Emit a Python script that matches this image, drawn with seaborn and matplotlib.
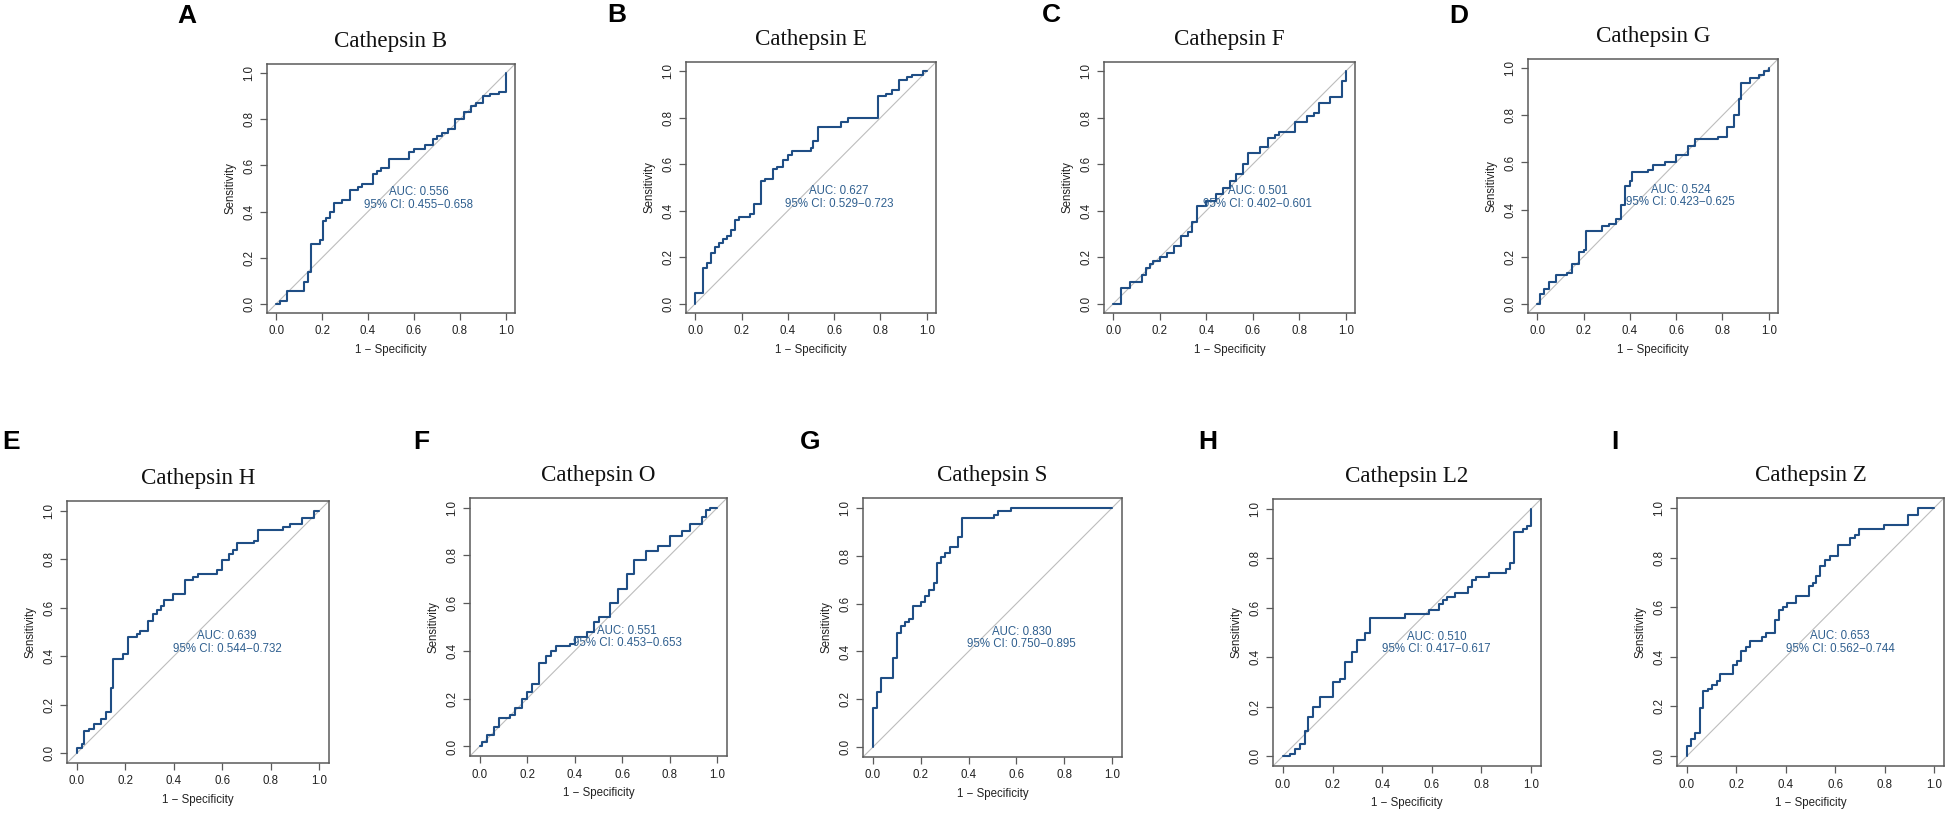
import matplotlib
matplotlib.use("Agg")
import matplotlib.pyplot as plt
import pandas as pd
import seaborn as sns

# --- ROC step points (1 - specificity, sensitivity) ---
CTSB = [(0, 0), (0.015, 0.014), (0.048, 0.054), (0.12, 0.095), (0.14, 0.136), (0.153, 0.26),
        (0.19, 0.275), (0.205, 0.36), (0.219, 0.372), (0.236, 0.397), (0.251, 0.438),
        (0.288, 0.452), (0.321, 0.493), (0.358, 0.506), (0.372, 0.52), (0.423, 0.561),
        (0.44, 0.575), (0.455, 0.587), (0.493, 0.63), (0.578, 0.658), (0.6, 0.67),
        (0.65, 0.69), (0.683, 0.713), (0.70, 0.727), (0.72, 0.74), (0.75, 0.76), (0.78, 0.8),
        (0.82, 0.83), (0.85, 0.86), (0.87, 0.87), (0.9, 0.9), (0.93, 0.91), (0.97, 0.92),
        (1.0, 1.0)]
CTSE = [(0, 0), (0, 0.045), (0.032, 0.155), (0.049, 0.175), (0.066, 0.22), (0.085, 0.245),
        (0.102, 0.263), (0.118, 0.277), (0.135, 0.292), (0.153, 0.318), (0.17, 0.361),
        (0.187, 0.372), (0.236, 0.387), (0.253, 0.428), (0.286, 0.526), (0.303, 0.537),
        (0.337, 0.579), (0.354, 0.59), (0.38, 0.62), (0.40, 0.64), (0.42, 0.655), (0.50, 0.67),
        (0.51, 0.70), (0.53, 0.76), (0.63, 0.78), (0.66, 0.80), (0.79, 0.892), (0.826, 0.904),
        (0.848, 0.921), (0.881, 0.961), (0.913, 0.974), (0.935, 0.986), (0.985, 1.0), (1.0, 1.0)]
CTSF = [(0, 0), (0.032, 0.068), (0.072, 0.092), (0.122, 0.125), (0.14, 0.152), (0.157, 0.17),
        (0.172, 0.185), (0.2, 0.2), (0.23, 0.22), (0.26, 0.25), (0.29, 0.29), (0.32, 0.31),
        (0.34, 0.35), (0.36, 0.42), (0.40, 0.44), (0.44, 0.47), (0.47, 0.5), (0.5, 0.53),
        (0.53, 0.56), (0.56, 0.6), (0.58, 0.65), (0.632, 0.674), (0.664, 0.714), (0.697, 0.724),
        (0.714, 0.738), (0.78, 0.781), (0.834, 0.806), (0.862, 0.82), (0.884, 0.863),
        (0.934, 0.889), (0.984, 0.957), (1.0, 1.0)]
CTSG = [(0, 0), (0.01, 0.04), (0.03, 0.06), (0.05, 0.09), (0.08, 0.12), (0.13, 0.13),
        (0.15, 0.17), (0.18, 0.22), (0.2, 0.23), (0.21, 0.31), (0.28, 0.33), (0.31, 0.34),
        (0.34, 0.36), (0.36, 0.42), (0.38, 0.5), (0.4, 0.52), (0.41, 0.56), (0.48, 0.57),
        (0.5, 0.59), (0.55, 0.6), (0.6, 0.63), (0.65, 0.67), (0.68, 0.7), (0.78, 0.71),
        (0.82, 0.75), (0.85, 0.8), (0.87, 0.87), (0.88, 0.94), (0.92, 0.96), (0.96, 0.97),
        (0.98, 0.99), (1, 1)]
CTSH = [(0, 0), (0, 0.02), (0.02, 0.04), (0.03, 0.09), (0.05, 0.1), (0.07, 0.12), (0.1, 0.14),
        (0.12, 0.17), (0.14, 0.27), (0.15, 0.39), (0.19, 0.41), (0.21, 0.48), (0.25, 0.49),
        (0.261, 0.504), (0.295, 0.546), (0.313, 0.574), (0.33, 0.59), (0.346, 0.609),
        (0.361, 0.63), (0.396, 0.657), (0.446, 0.714), (0.481, 0.725), (0.499, 0.739),
        (0.58, 0.756), (0.598, 0.795), (0.629, 0.821), (0.646, 0.837), (0.662, 0.865),
        (0.731, 0.877), (0.746, 0.919), (0.849, 0.933), (0.879, 0.946), (0.927, 0.971),
        (0.98, 1.0), (1, 1)]
CTSO = [(0, 0), (0.01, 0.02), (0.03, 0.05), (0.06, 0.08), (0.08, 0.12), (0.13, 0.13),
        (0.15, 0.16), (0.18, 0.2), (0.2, 0.23), (0.22, 0.26), (0.25, 0.35), (0.28, 0.38),
        (0.3, 0.4), (0.32, 0.42), (0.38, 0.43), (0.4, 0.46), (0.45, 0.48), (0.48, 0.52),
        (0.5, 0.54), (0.55, 0.6), (0.58, 0.66), (0.62, 0.72), (0.65, 0.78), (0.7, 0.82),
        (0.75, 0.84), (0.8, 0.88), (0.85, 0.9), (0.884, 0.93), (0.934, 0.96), (0.952, 0.989),
        (0.969, 1.0), (1, 1)]
CTSS = [(0, 0), (0, 0.166), (0.017, 0.233), (0.033, 0.289), (0.084, 0.371), (0.103, 0.479),
        (0.119, 0.507), (0.137, 0.523), (0.153, 0.535), (0.17, 0.588), (0.202, 0.605),
        (0.22, 0.63), (0.237, 0.658), (0.254, 0.686), (0.269, 0.769), (0.287, 0.792),
        (0.304, 0.811), (0.322, 0.836), (0.357, 0.878), (0.374, 0.957), (0.506, 0.971),
        (0.525, 0.985), (0.576, 1.0), (1, 1)]
CTSL2 = [(0, 0), (0.03, 0.01), (0.05, 0.03), (0.07, 0.05), (0.09, 0.1), (0.1, 0.16),
         (0.12, 0.2), (0.15, 0.24), (0.2, 0.3), (0.23, 0.31), (0.25, 0.38), (0.28, 0.42),
         (0.3, 0.47), (0.33, 0.5), (0.35, 0.56), (0.492, 0.574), (0.59, 0.59), (0.627, 0.615),
         (0.644, 0.631), (0.663, 0.645), (0.694, 0.658), (0.745, 0.685), (0.761, 0.712),
         (0.779, 0.726), (0.832, 0.739), (0.9, 0.756), (0.916, 0.78), (0.933, 0.908),
         (0.967, 0.919), (0.983, 0.932), (1.0, 1.0)]
CTSZ = [(0, 0), (0, 0.04), (0.016, 0.067), (0.034, 0.095), (0.052, 0.192), (0.067, 0.262),
        (0.087, 0.272), (0.103, 0.286), (0.12, 0.302), (0.134, 0.33), (0.187, 0.369),
        (0.204, 0.384), (0.22, 0.424), (0.239, 0.438), (0.254, 0.464), (0.305, 0.481),
        (0.321, 0.494), (0.356, 0.548), (0.372, 0.588), (0.39, 0.601), (0.406, 0.617),
        (0.442, 0.644), (0.493, 0.685), (0.509, 0.698), (0.524, 0.725), (0.54, 0.766),
        (0.558, 0.792), (0.577, 0.808), (0.61, 0.85), (0.661, 0.877), (0.679, 0.89),
        (0.695, 0.917), (0.796, 0.93), (0.896, 0.97), (0.933, 1.0), (1, 1)]

TITLES = ["Cathepsin B", "Cathepsin E", "Cathepsin F", "Cathepsin G", "Cathepsin H",
          "Cathepsin O", "Cathepsin S", "Cathepsin L2", "Cathepsin Z"]
LETTERS = ["A", "B", "C", "D", "E", "F", "G", "H", "I"]
AUC = ["0.556", "0.627", "0.501", "0.524", "0.639", "0.551", "0.830", "0.510", "0.653"]
CI = ["0.455\u22120.658", "0.529\u22120.723", "0.402\u22120.601", "0.423\u22120.625",
      "0.544\u22120.732", "0.453\u22120.653", "0.750\u22120.895", "0.417\u22120.617",
      "0.562\u22120.744"]
CURVES = [CTSB, CTSE, CTSF, CTSG, CTSH, CTSO, CTSS, CTSL2, CTSZ]

# axes boxes in pixels: left, top, width, height ; letter x, letter y
BOXES = [(267, 64, 248, 249), (686, 62, 250, 251), (1104, 62, 251, 251), (1528, 59, 250, 254),
         (67, 501, 262, 262), (470, 498, 257, 258), (863, 498, 259, 259), (1273, 499, 268, 267),
         (1677, 498, 267, 268)]
LETTER_POS = [(177, 16), (607, 15), (1042, 15), (1449, 16), (2, 442), (413, 442), (800, 442),
              (1198, 442), (1611, 442)]

W, H = 1953, 825
LINE_COL = "#1F4E85"
TEXT_COL = "#2F5F8F"
FRAME_COL = "#5A5A5A"

sns.set_theme(style="ticks")
plt.rcParams['font.family'] = ['Liberation Sans', 'DejaVu Sans']

fig = plt.figure(figsize=(W / 100, H / 100), dpi=100)

for i in range(9):
    l, t, w, h = BOXES[i]
    ax = fig.add_axes([l / W, 1 - (t + h) / H, w / W, h / H])
    df = pd.DataFrame(CURVES[i], columns=["fpr", "tpr"])

    ax.axline((0, 0), (1, 1), color="#BDBDBD", lw=0.8, zorder=1)
    sns.lineplot(data=df, x="fpr", y="tpr", ax=ax, sort=False, estimator=None,
                 drawstyle="steps-post", color=LINE_COL, lw=1.5, zorder=3)

    ax.text(0.62, 0.457, f"AUC: {AUC[i]}\n95% CI: {CI[i]}", ha="center", va="center",
            color=TEXT_COL, fontsize=8.3, linespacing=1.05, zorder=4)

    ax.set_xlim(-0.04, 1.04)
    ax.set_ylim(-0.04, 1.04)
    ticks = [0.0, 0.2, 0.4, 0.6, 0.8, 1.0]
    ax.set_xticks(ticks)
    ax.set_yticks(ticks)
    ax.set_xticklabels([f"{v:.1f}" for v in ticks])
    ax.set_yticklabels([f"{v:.1f}" for v in ticks], rotation=90, va="center")
    ax.tick_params(axis="both", length=5, width=0.9, color=FRAME_COL, labelsize=8.3,
                   labelcolor="#222222")
    ax.tick_params(axis="x", pad=4)
    ax.tick_params(axis="y", pad=3.5)
    ax.set_xlabel("1 \u2212 Specificity", fontsize=8.3, labelpad=5, color="#222222")
    ax.set_ylabel("Sensitivity", fontsize=8.3, labelpad=5, color="#222222")
    for sp in ax.spines.values():
        sp.set_color(FRAME_COL)
        sp.set_linewidth(1.1)
    ax.set_title(TITLES[i], family=["Liberation Serif", "DejaVu Serif"], fontsize=16.6,
                 pad=12, color="#111111")

    lx, ly = LETTER_POS[i]
    fig.text(lx / W, 1 - ly / H, LETTERS[i], fontsize=19, fontweight="bold",
             ha="left", va="center", color="black")

fig.savefig("out.png", dpi=100, facecolor="white")
